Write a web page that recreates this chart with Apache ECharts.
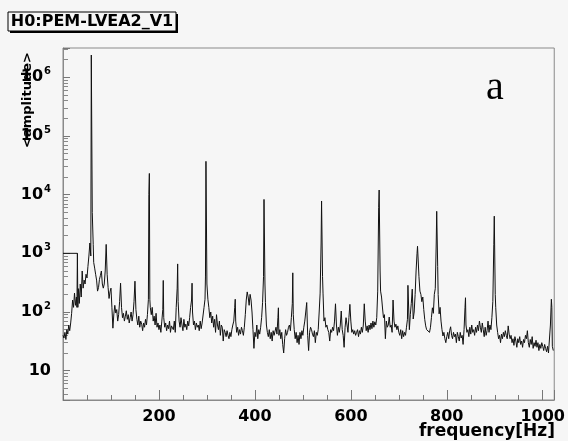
<!DOCTYPE html>
<html>
<head>
<meta charset="utf-8">
<script src="https://cdn.jsdelivr.net/npm/echarts@6/dist/echarts.min.js"></script>
<style>
	html, body { margin: 0; padding: 0; background: #f6f6f6; }
	#chart { width: 568px; height: 441px; }
</style>
</head>
<body>
<div id="chart"></div>
<script>
// spectrum, frequency in Hz, amplitude
var freq = [
	0, 2, 4, 6, 8, 10, 12, 14, 16, 18, 20, 22, 24, 26, 28, 29, 30, 31, 32, 34, 36, 38, 40, 42, 44, 46, 48, 50, 52, 54, 56, 58, 59, 61, 62, 63, 64, 66, 68, 70, 72, 74, 76, 78, 80, 82, 84, 86, 88, 90, 92, 94, 96, 98,
	100, 102, 104, 106, 108, 110, 112, 114, 116, 118, 120, 122, 124, 126, 128, 130, 132, 134, 136, 138, 140, 142, 144, 146, 148, 150, 152, 154, 156, 158, 160, 162, 164, 166, 168, 170, 172, 174, 176, 178, 179, 180, 181, 182, 184, 186, 188, 190, 192, 194, 196, 198,
	200, 202, 204, 206, 208, 209, 210, 212, 214, 216, 218, 220, 222, 224, 226, 228, 230, 232, 234, 236, 238, 239, 240, 242, 244, 246, 248, 250, 252, 254, 256, 258, 260, 262, 264, 266, 268, 269, 270, 272, 274, 276, 278, 280, 282, 284, 286, 288, 290, 292, 294, 296, 297, 298, 299,
	300, 302, 304, 306, 308, 310, 312, 314, 316, 318, 320, 322, 324, 326, 328, 330, 332, 334, 336, 338, 340, 342, 344, 346, 348, 350, 352, 354, 356, 358, 359, 360, 362, 364, 366, 368, 370, 372, 374, 376, 378, 380, 382, 384, 386, 388, 390, 392, 394, 396, 398,
	400, 402, 404, 406, 408, 410, 412, 414, 416, 418, 419, 420, 421, 422, 424, 426, 428, 430, 432, 434, 436, 438, 440, 442, 444, 446, 448, 449, 450, 452, 454, 456, 458, 460, 462, 464, 466, 468, 470, 472, 474, 476, 478, 479, 480, 482, 484, 486, 488, 490, 492, 494, 496, 498,
	500, 502, 504, 506, 508, 510, 512, 514, 516, 518, 520, 522, 524, 526, 528, 530, 532, 534, 536, 538, 539, 540, 541, 542, 544, 546, 548, 550, 552, 554, 556, 558, 560, 562, 564, 566, 568, 570, 572, 574, 576, 578, 580, 582, 584, 586, 588, 590, 592, 594, 596, 598,
	600, 602, 604, 606, 608, 610, 612, 614, 616, 618, 620, 622, 624, 626, 628, 630, 632, 634, 636, 638, 640, 642, 644, 646, 648, 650, 652, 654, 656, 658, 659, 660, 661, 662, 664, 666, 668, 670, 672, 674, 676, 678, 680, 682, 684, 686, 688, 690, 692, 694, 696, 698,
	700, 702, 704, 706, 708, 710, 712, 714, 716, 718, 719, 720, 722, 724, 726, 728, 730, 732, 734, 736, 738, 739, 740, 742, 744, 746, 748, 750, 752, 754, 756, 758, 760, 762, 764, 766, 768, 770, 772, 774, 776, 778, 779, 780, 781, 782, 784, 786, 788, 790, 792, 794, 796, 798,
	800, 802, 804, 806, 808, 810, 812, 814, 816, 818, 820, 822, 824, 826, 828, 830, 832, 834, 836, 838, 839, 840, 842, 844, 846, 848, 850, 852, 854, 856, 858, 860, 862, 864, 866, 868, 870, 872, 874, 876, 878, 880, 882, 884, 886, 888, 890, 892, 894, 896, 898, 899,
	900, 901, 902, 904, 906, 908, 910, 912, 914, 916, 918, 920, 922, 924, 926, 928, 930, 932, 934, 936, 938, 940, 942, 944, 946, 948, 950, 952, 954, 956, 958, 960, 962, 964, 966, 968, 970, 972, 974, 976, 978, 980, 982, 984, 986, 988, 990, 992, 994, 996, 998,
	1000, 1002, 1004, 1006, 1008, 1010, 1012, 1014, 1016, 1018, 1019, 1020, 1022
];
var amp = [
	40, 36, 45, 34, 50, 42, 60, 48, 65, 95, 160, 120, 210, 130, 180, 120, 1000, 120, 250, 140, 300, 180, 500, 255, 350, 300, 440, 380, 600, 900, 1500, 900, 2400000, 5000, 5000, 1400, 700, 560, 440, 350, 227, 260, 360, 420, 500, 300, 255, 300, 500, 1420, 440, 260, 170, 220,
	255, 118, 53, 93, 130, 96, 110, 70, 90, 150, 310, 120, 80, 95, 70, 85, 105, 75, 90, 65, 80, 100, 70, 90, 150, 335, 110, 75, 60, 85, 55, 70, 62, 48, 65, 55, 75, 60, 90, 165, 10000, 23000, 165, 120, 90, 120, 70, 85, 60, 95, 55, 65,
	50, 60, 45, 70, 110, 345, 80, 55, 65, 48, 60, 52, 70, 45, 58, 62, 50, 70, 45, 120, 255, 660, 150, 70, 55, 80, 60, 48, 75, 55, 62, 50, 70, 58, 80, 120, 160, 310, 100, 60, 70, 50, 65, 55, 60, 48, 70, 52, 65, 62, 120, 165, 410, 37000, 37000,
	300, 165, 120, 80, 100, 65, 85, 55, 75, 45, 90, 60, 50, 70, 40, 60, 55, 32, 50, 45, 38, 48, 40, 35, 45, 38, 50, 60, 70, 120, 165, 70, 45, 55, 40, 50, 42, 55, 48, 40, 55, 90, 160, 220, 180, 130, 200, 160, 100, 50, 24,
	45, 38, 60, 35, 50, 42, 55, 80, 144, 400, 8300, 8300, 300, 144, 60, 45, 38, 50, 35, 45, 32, 48, 40, 38, 55, 42, 80, 118, 40, 50, 35, 45, 28, 20, 35, 50, 40, 45, 55, 60, 48, 80, 140, 465, 90, 50, 35, 45, 30, 40, 28, 45, 35, 48,
	40, 55, 70, 100, 145, 40, 22, 45, 55, 50, 42, 38, 48, 30, 45, 40, 50, 100, 210, 1500, 7800, 7800, 400, 210, 70, 80, 55, 60, 50, 45, 32, 50, 45, 55, 48, 70, 138, 60, 40, 55, 45, 60, 104, 50, 40, 25, 55, 80, 60, 45, 80, 135,
	70, 45, 50, 42, 48, 40, 45, 50, 38, 48, 42, 55, 45, 60, 138, 70, 48, 58, 45, 60, 50, 65, 52, 70, 55, 68, 60, 80, 227, 6000, 12000, 12000, 500, 227, 180, 117, 80, 90, 35, 70, 55, 60, 82, 55, 60, 45, 160, 70, 55, 62, 50, 58,
	45, 40, 50, 35, 48, 38, 45, 40, 55, 75, 285, 285, 50, 90, 140, 245, 76, 100, 200, 500, 1000, 1320, 1320, 400, 227, 200, 150, 180, 110, 75, 58, 50, 48, 52, 45, 55, 80, 118, 95, 200, 250, 1500, 5200, 5200, 600, 200, 93, 120, 70, 50, 39, 45, 35, 30,
	38, 45, 35, 48, 56, 40, 35, 45, 38, 42, 30, 45, 38, 32, 45, 36, 40, 28, 50, 120, 175, 60, 45, 50, 38, 55, 42, 60, 45, 50, 40, 55, 45, 60, 48, 70, 55, 45, 65, 50, 38, 55, 40, 48, 70, 45, 60, 50, 80, 150, 1400, 4300,
	4300, 200, 120, 60, 45, 35, 40, 30, 42, 35, 45, 38, 48, 40, 35, 58, 42, 35, 40, 30, 35, 27, 38, 32, 25, 35, 30, 38, 28, 32, 25, 34, 30, 40, 35, 48, 30, 25, 34, 28, 38, 24, 30, 26, 33, 25, 30, 22, 28, 24, 30,
	26, 22, 28, 24, 21, 26, 20, 19, 60, 165, 120, 26, 22
];
// short flat stroke at 10^3 next to the axis
var stepFreq = [0, 30];
var stepAmp = [1000, 1000];

var xTicks = [200, 400, 600, 800, 1000];

var myChart = echarts.init(document.getElementById('chart'));

var lineData = freq.map(function(f, i) { return [f, amp[i]]; });
var stepData = stepFreq.map(function(f, i) { return [f, stepAmp[i]]; });

var bold = '"DejaVu Sans", "Liberation Sans", sans-serif';

var option = {
	backgroundColor: '#f6f6f6',
	animation: false,
	grid: {
		left: 63,
		right: 11,
		top: 48,
		bottom: 41,
		show: true,
		borderColor: '#8a8a8a',
		borderWidth: 1,
		backgroundColor: 'transparent'
	},
	xAxis: {
		type: 'value',
		min: 0,
		max: 1024,
		interval: 200,
		axisLine: { lineStyle: { color: '#8a8a8a' } },
		axisTick: { inside: true, length: 10, lineStyle: { color: '#777' } },
		minorTick: { show: true, splitNumber: 4, length: 5, lineStyle: { color: '#777' } },
		splitLine: { show: false },
		axisLabel: {
			showMinLabel: false,
			showMaxLabel: false,
			margin: 9,
			color: '#000',
			fontFamily: bold,
			fontWeight: 'bold',
			fontSize: 16,
			formatter: function(v) {
				return xTicks.indexOf(v) >= 0 ? String(v) : '';
			}
		}
	},
	yAxis: {
		type: 'log',
		logBase: 10,
		min: 3.1623,
		max: 3162278,
		axisLine: { lineStyle: { color: '#8a8a8a' } },
		axisTick: { inside: true, length: 7, lineStyle: { color: '#777' } },
		minorTick: { show: true, splitNumber: 9, length: 5, lineStyle: { color: '#888' } },
		splitLine: { show: false },
		axisLabel: {
			showMinLabel: false,
			showMaxLabel: false,
			margin: 12,
			color: '#000',
			formatter: function(v) {
				var n = Math.round(Math.log(v) / Math.LN10);
				if (Math.abs(v - Math.pow(10, n)) > 1e-6 * v) return '';
				if (n === 1) return '{b|10}';
				return '{b|10}{s|' + n + '}';
			},
			rich: {
				b: { fontFamily: bold, fontWeight: 'bold', fontSize: 16, color: '#000' },
				s: { fontFamily: bold, fontWeight: 'bold', fontSize: 10, color: '#000', padding: [0, 0, 11, 1] }
			}
		}
	},
	graphic: [
		{ type: 'rect', shape: { x: 10, y: 14, width: 168, height: 19 }, style: { fill: '#000' } },
		{ type: 'rect', shape: { x: 8, y: 12, width: 168, height: 19 }, style: { fill: '#f6f6f6', stroke: '#000', lineWidth: 1 } },
		{
			type: 'text', x: 92, y: 22,
			style: { text: 'H0:PEM-LVEA2_V1', fill: '#000', font: 'bold 16px ' + bold, align: 'center', verticalAlign: 'middle' }
		},
		{
			type: 'text', x: 495, y: 88,
			style: { text: 'a', fill: '#000', font: '40px "Liberation Serif", "DejaVu Serif", serif', align: 'center', verticalAlign: 'middle' }
		},
		{
			type: 'text', x: 28, y: 100, rotation: Math.PI / 2,
			style: { text: '<amplitude>', fill: '#000', font: 'bold 13px ' + bold, align: 'center', verticalAlign: 'middle' }
		},
		{
			type: 'text', x: 555, y: 432,
			style: { text: 'frequency[Hz]', fill: '#000', font: 'bold 17px ' + bold, align: 'right', verticalAlign: 'middle' }
		}
	],
	series: [{
		name: 'spectrum',
		type: 'line',
		data: lineData,
		showSymbol: false,
		symbol: 'none',
		lineStyle: { color: '#111', width: 1 },
		silent: true
	}, {
		name: 'step',
		type: 'line',
		data: stepData,
		showSymbol: false,
		symbol: 'none',
		lineStyle: { color: '#111', width: 1 },
		silent: true
	}]
};
myChart.setOption(option);
</script>
</body>
</html>
